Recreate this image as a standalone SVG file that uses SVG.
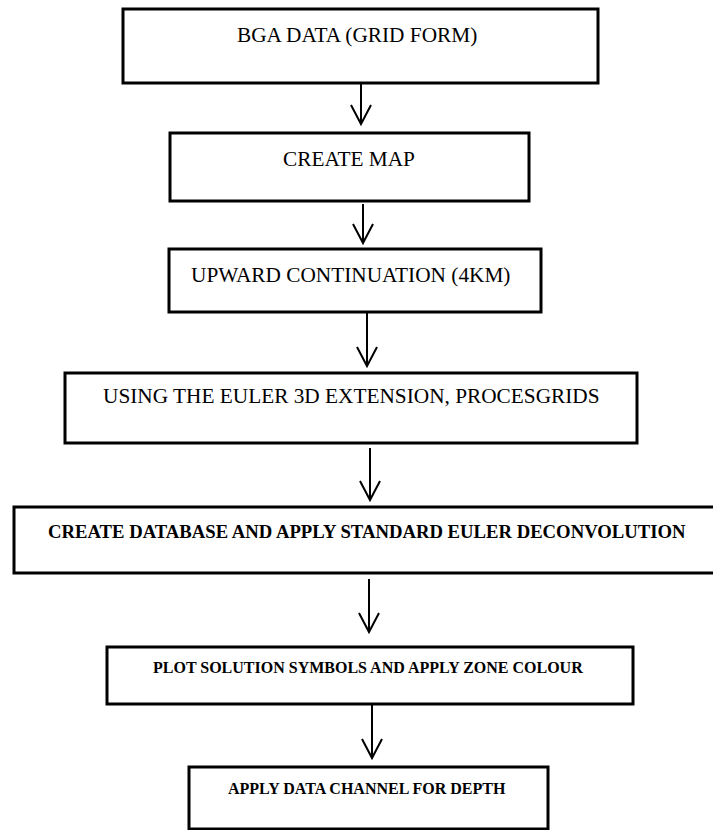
<svg xmlns="http://www.w3.org/2000/svg" width="713" height="830" viewBox="0 0 713 830">
  <style>
    .box { fill: #ffffff; stroke: #000000; stroke-width: 3; }
    .t { font-family: "Liberation Serif", "Times New Roman", Tinos, "DejaVu Serif", serif; font-weight: normal; font-style: normal; font-size: 21.3px; fill: #000000; }
    .tb { font-family: "Liberation Serif", "Times New Roman", Tinos, "DejaVu Serif", serif; font-weight: bold; fill: #000000; }
    .conn { stroke: #000000; stroke-width: 2; fill: none; marker-end: url(#vhead); }
  </style>
  <defs>
    <marker id="vhead" markerUnits="userSpaceOnUse" viewBox="-22 -12 24 24" markerWidth="24" markerHeight="24" refX="0" refY="0" orient="auto" overflow="visible">
      <path d="M-19,-10 L0,0 L-19,10" fill="none" stroke="#000000" stroke-width="2" stroke-linejoin="miter"/>
    </marker>
  </defs>
  <rect width="713" height="830" fill="#ffffff"/>

  <g id="connectors">
    <line class="conn" x1="361" y1="83" x2="361" y2="124"/>
    <line class="conn" x1="363" y1="204" x2="363" y2="243"/>
    <line class="conn" x1="367" y1="312" x2="367" y2="366"/>
    <line class="conn" x1="370" y1="448" x2="370" y2="500"/>
    <line class="conn" x1="369" y1="579" x2="369" y2="632"/>
    <line class="conn" x1="372" y1="704" x2="372" y2="758"/>
  </g>

  <g id="node-bga-data">
    <rect class="box" x="123" y="9" width="475" height="74"/>
    <text class="t" x="237" y="42">BGA DATA (GRID FORM)</text>
  </g>

  <g id="node-create-map">
    <rect class="box" x="170" y="133" width="359" height="68"/>
    <text class="t" x="283" y="166">CREATE MAP</text>
  </g>

  <g id="node-upward-continuation">
    <rect class="box" x="169" y="249" width="372" height="63"/>
    <text class="t" x="191" y="282">UPWARD CONTINUATION (4KM)</text>
  </g>

  <g id="node-euler-3d">
    <rect class="box" x="65" y="373" width="572" height="70"/>
    <text class="t" x="103" y="403">USING THE EULER 3D EXTENSION, PROCESGRIDS</text>
  </g>

  <g id="node-create-database">
    <rect class="box" x="14" y="507" width="710" height="66"/>
    <text class="tb" x="48" y="538" font-size="18.7">CREATE DATABASE AND APPLY STANDARD EULER DECONVOLUTION</text>
  </g>

  <g id="node-plot-solution">
    <rect class="box" x="107" y="647" width="526" height="57"/>
    <text class="tb" x="153" y="673" font-size="16">PLOT SOLUTION SYMBOLS AND APPLY ZONE COLOUR</text>
  </g>

  <g id="node-apply-data-channel">
    <rect class="box" x="189" y="767" width="359" height="62"/>
    <text class="tb" x="228" y="794" font-size="16">APPLY DATA CHANNEL FOR DEPTH</text>
  </g>
</svg>
